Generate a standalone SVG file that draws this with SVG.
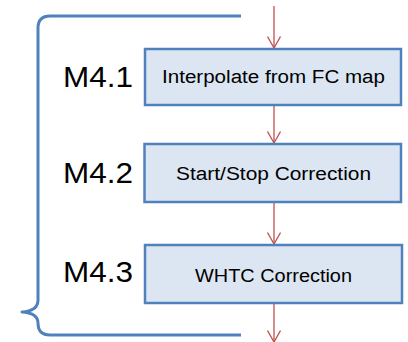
<svg xmlns="http://www.w3.org/2000/svg" width="408" height="342" viewBox="0 0 408 342">
  <style>
    .box { fill: #DCE6F2; stroke: #4F81BD; stroke-width: 2.5; }
    .btxt { font-family: "Liberation Sans", Arial, sans-serif; font-size: 18px; fill: #000; text-anchor: middle; }
    .lbl { font-family: "Liberation Sans", Arial, sans-serif; font-size: 29px; fill: #000; }
    .flow { stroke: #C0504D; stroke-width: 1.3; fill: none; }
    .brace { stroke: #4F81BD; stroke-width: 3; fill: none; stroke-linejoin: round; }
  </style>
  <defs>
    <!-- open V arrowhead, drawn along +x so orient="auto" points it down the line -->
    <marker id="arr" markerWidth="14" markerHeight="14" refX="12" refY="7" orient="auto" markerUnits="userSpaceOnUse" viewBox="0 0 14 14">
      <path d="M0.5,0.5 L12,7 L0.5,13.5" fill="none" stroke="#C0504D" stroke-width="1.3"/>
    </marker>
  </defs>

  <!-- curly brace grouping the three steps -->
  <path class="brace" d="M241,16 L50,16 Q38,16 38,28 L38,300 Q38,311 22,312 Q38,313 38,323 L38,323 Q38,335 50,335 L241,335"/>

  <!-- connectors -->
  <g id="connectors">
    <line class="flow" x1="274" y1="6" x2="274" y2="48" marker-end="url(#arr)"/>
    <line class="flow" x1="274" y1="105" x2="274" y2="143" marker-end="url(#arr)"/>
    <line class="flow" x1="274" y1="202" x2="274" y2="244" marker-end="url(#arr)"/>
    <line class="flow" x1="274" y1="303" x2="274" y2="342" marker-end="url(#arr)"/>
  </g>

  <g id="m41">
    <text class="lbl" x="63" y="87" textLength="70" lengthAdjust="spacingAndGlyphs">M4.1</text>
    <rect class="box" x="145" y="49" width="256" height="56"/>
    <text class="btxt" x="273.5" y="83" textLength="223" lengthAdjust="spacingAndGlyphs">Interpolate from FC map</text>
  </g>

  <g id="m42">
    <text class="lbl" x="63" y="183" textLength="70" lengthAdjust="spacingAndGlyphs">M4.2</text>
    <rect class="box" x="144.5" y="144" width="256.5" height="58"/>
    <text class="btxt" x="273.5" y="180" textLength="195" lengthAdjust="spacingAndGlyphs">Start/Stop Correction</text>
  </g>

  <g id="m43">
    <text class="lbl" x="63" y="282" textLength="70" lengthAdjust="spacingAndGlyphs">M4.3</text>
    <rect class="box" x="145" y="245" width="257" height="58"/>
    <text class="btxt" x="273.5" y="282" textLength="157" lengthAdjust="spacingAndGlyphs">WHTC Correction</text>
  </g>
</svg>
